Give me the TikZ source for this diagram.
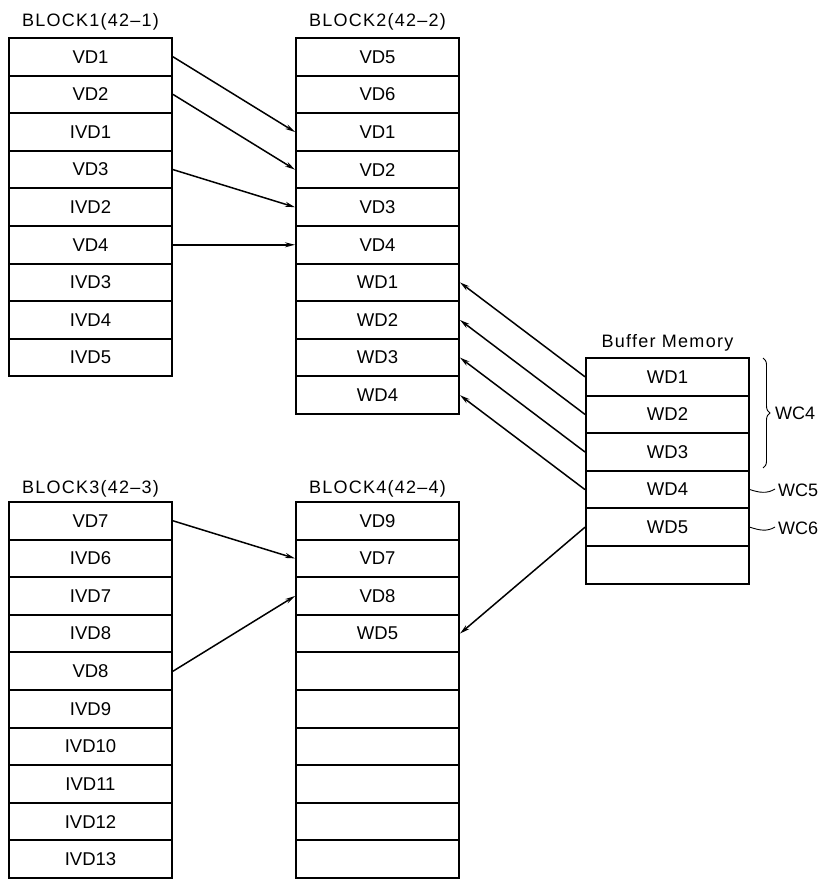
\documentclass[tikz,border=0pt]{standalone}
\usepackage{fontspec}
\setmainfont{Liberation Sans}
\newfontfamily\titlefont[LetterSpace=7]{Liberation Sans}
\usetikzlibrary{arrows.meta,decorations.pathreplacing}

\begin{document}
\begin{tikzpicture}[x=1pt,y=-1pt,
  cell/.style={draw, line width=2pt, minimum width=163pt, minimum height=37.6pt,
    inner sep=0pt, anchor=north, font=\fontsize{18.5}{18.5}\selectfont},
  blocktitle/.style={anchor=base, inner sep=0pt, font=\titlefont\fontsize{18}{18}\selectfont},
  wclabel/.style={anchor=west, inner sep=0pt, font=\fontsize{18}{18}\selectfont},
  arr/.style={line width=1.5pt, -{Stealth[length=10pt,width=5pt]}},
  thinline/.style={line width=0.9pt}
]
\useasboundingbox (0,0) rectangle (826,880);

% ---- Block 1 ----
\node[blocktitle] (t1) at (90.5,27) {BLOCK1(42–1)};
\foreach \t [count=\i] in {VD1,VD2,IVD1,VD3,IVD2,VD4,IVD3,IVD4,IVD5}
  \node[cell] (b1r\i) at (90.5,{37+(\i-1)*37.6}) {\t};

% ---- Block 2 ----
\node[blocktitle] (t2) at (377.5,27) {BLOCK2(42–2)};
\foreach \t [count=\i] in {VD5,VD6,VD1,VD2,VD3,VD4,WD1,WD2,WD3,WD4}
  \node[cell] (b2r\i) at (377.5,{37+(\i-1)*37.6}) {\t};

% ---- Block 3 ----
\node[blocktitle] (t3) at (90.5,493) {BLOCK3(42–3)};
\foreach \t [count=\i] in {VD7,IVD6,IVD7,IVD8,VD8,IVD9,IVD10,IVD11,IVD12,IVD13}
  \node[cell] (b3r\i) at (90.5,{501+(\i-1)*37.6}) {\t};

% ---- Block 4 ----
\node[blocktitle] (t4) at (377.5,493) {BLOCK4(42–4)};
\foreach \t [count=\i] in {VD9,VD7,VD8,WD5}
  \node[cell] (b4r\i) at (377.5,{501+(\i-1)*37.6}) {\t};
\foreach \i in {5,...,10}
  \node[cell] (b4r\i) at (377.5,{501+(\i-1)*37.6}) {};

% ---- Buffer memory ----
\node[blocktitle] (tb) at (667.5,347) {Buffer Memory};
\foreach \t [count=\i] in {WD1,WD2,WD3,WD4,WD5}
  \node[cell] (bm\i) at (667.5,{357+(\i-1)*37.6}) {\t};
\node[cell] (bm6) at (667.5,{357+5*37.6}) {};

% ---- Valid data copied from block 1 to block 2 ----
\draw[arr] (b1r1.east) -- (b2r3.west);
\draw[arr] (b1r2.east) -- (b2r4.west);
\draw[arr] (b1r4.east) -- (b2r5.west);
\draw[arr] (b1r6.east) -- (b2r6.west);

% ---- Write data flushed from the buffer ----
\draw[arr] (bm1.west) -- (b2r7.east);
\draw[arr] (bm2.west) -- (b2r8.east);
\draw[arr] (bm3.west) -- (b2r9.east);
\draw[arr] (bm4.west) -- (b2r10.east);
\draw[arr] (bm5.west) -- (b4r4.east);

% ---- Valid data copied from block 3 to block 4 ----
\draw[arr] (b3r1.east) -- (b4r2.west);
\draw[arr] (b3r5.east) -- (b4r3.west);

% ---- Write commands ----
\coordinate (brtop) at (763,358);
\coordinate (brbot) at (763,468);
\draw[thinline, decorate, decoration={brace, amplitude=7pt}] (brtop) -- (brbot);
\node[wclabel] (wc4) at (775,413) {WC4};

\coordinate (wc5end) at (775,489);
\draw[thinline] (bm4.east) .. controls +(9,3) and +(-8,5) .. (wc5end);
\node[wclabel] (wc5) at (778,490) {WC5};

\coordinate (wc6end) at (775,527);
\draw[thinline] (bm5.east) .. controls +(9,3) and +(-8,5) .. (wc6end);
\node[wclabel] (wc6) at (778,528) {WC6};
\end{tikzpicture}
\end{document}
